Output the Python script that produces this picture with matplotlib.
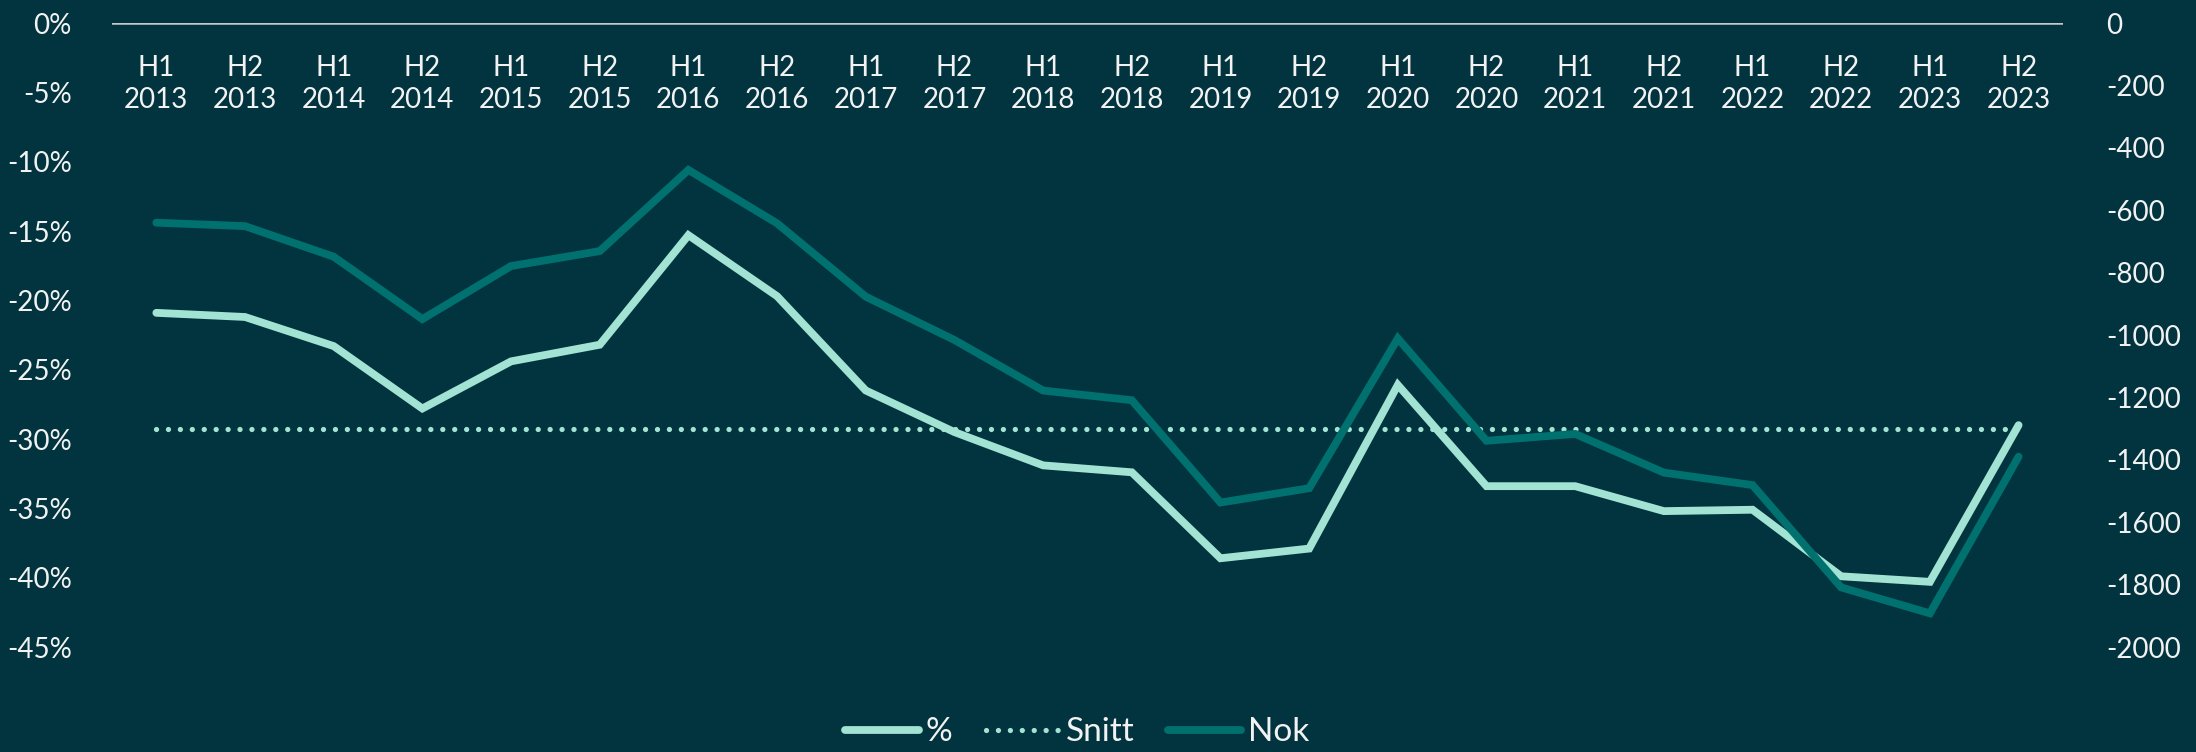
import matplotlib
matplotlib.use("Agg")
import matplotlib.pyplot as plt
from matplotlib.ticker import FuncFormatter

# data
periods = ["H1\n2013", "H2\n2013", "H1\n2014", "H2\n2014", "H1\n2015", "H2\n2015",
           "H1\n2016", "H2\n2016", "H1\n2017", "H2\n2017", "H1\n2018", "H2\n2018",
           "H1\n2019", "H2\n2019", "H1\n2020", "H2\n2020", "H1\n2021", "H2\n2021",
           "H1\n2022", "H2\n2022", "H1\n2023", "H2\n2023"]
pct = [-20.9, -21.2, -23.3, -27.8, -24.4, -23.2, -15.3, -19.7, -26.5, -29.5, -31.9,
       -32.4, -38.6, -37.9, -26.1, -33.4, -33.4, -35.2, -35.1, -39.9, -40.3, -29.0]
nok = [-640, -651, -749, -949, -779, -731, -471, -642, -877, -1016, -1178,
       -1209, -1537, -1491, -1011, -1339, -1317, -1441, -1481, -1809, -1892, -1390]
snitt = -29.3

bg = "#01343f"
light = "#a3e3d3"
dark = "#00716f"
txt = "#f2f2f2"

plt.rcParams["font.family"] = ["Lato", "DejaVu Sans"]

fig = plt.figure(figsize=(21.96, 7.52), dpi=100, facecolor=bg)
ax = fig.add_axes([0.051, 0.1396, 0.8884, 0.8298])
ax.set_facecolor(bg)
ax2 = ax.twinx()

x = list(range(len(periods)))
ax.plot(x, [p / 100 for p in pct], color=light, lw=5.6, solid_capstyle="round",
        solid_joinstyle="miter", label="%")
ax.plot(x, [snitt / 100] * len(x), color=light, lw=3.8,
        linestyle=(0, (0.01, 2.25)), dash_capstyle="round", label="Snitt")
ax2.plot(x, nok, color=dark, lw=5.6, solid_capstyle="round",
         solid_joinstyle="miter", label="Nok")

ax.set_xlim(-0.5, len(x) - 0.5)
ax.set_ylim(-0.45, 0)
ax2.set_ylim(-2000, 0)
ax.set_yticks([-0.05 * i for i in range(10)])
ax2.set_yticks(range(-2000, 1, 200))
ax.yaxis.set_major_formatter(FuncFormatter(lambda v, p: "%d%%" % round(v * 100)))
ax2.yaxis.set_major_formatter(FuncFormatter(lambda v, p: "%d" % round(v)))

for a in (ax, ax2):
    for s in a.spines.values():
        s.set_visible(False)
    a.tick_params(length=0, labelsize=20, labelcolor=txt)
ax.tick_params(axis="y", pad=29)
ax2.tick_params(axis="y", pad=31)
ax.set_xticks([])

# zero line at the top
ax.axhline(0, color="#c8c8c8", lw=1.8, zorder=1)

for i, lab in enumerate(periods):
    ax.text(i, 0.902, lab, transform=ax.get_xaxis_transform(), ha="center",
            va="center", fontsize=20, color=txt, linespacing=1.3)

h1, l1 = ax.get_legend_handles_labels()
h2, l2 = ax2.get_legend_handles_labels()
leg = fig.legend(h1 + h2, l1 + l2, loc="center", bbox_to_anchor=(0.4905, 0.026),
                 ncol=3, frameon=False, fontsize=24, handlelength=2.2,
                 columnspacing=1.0, handletextpad=0.2)
for t in leg.get_texts():
    t.set_color(txt)

fig.savefig("out.png", dpi=100, facecolor=bg)
